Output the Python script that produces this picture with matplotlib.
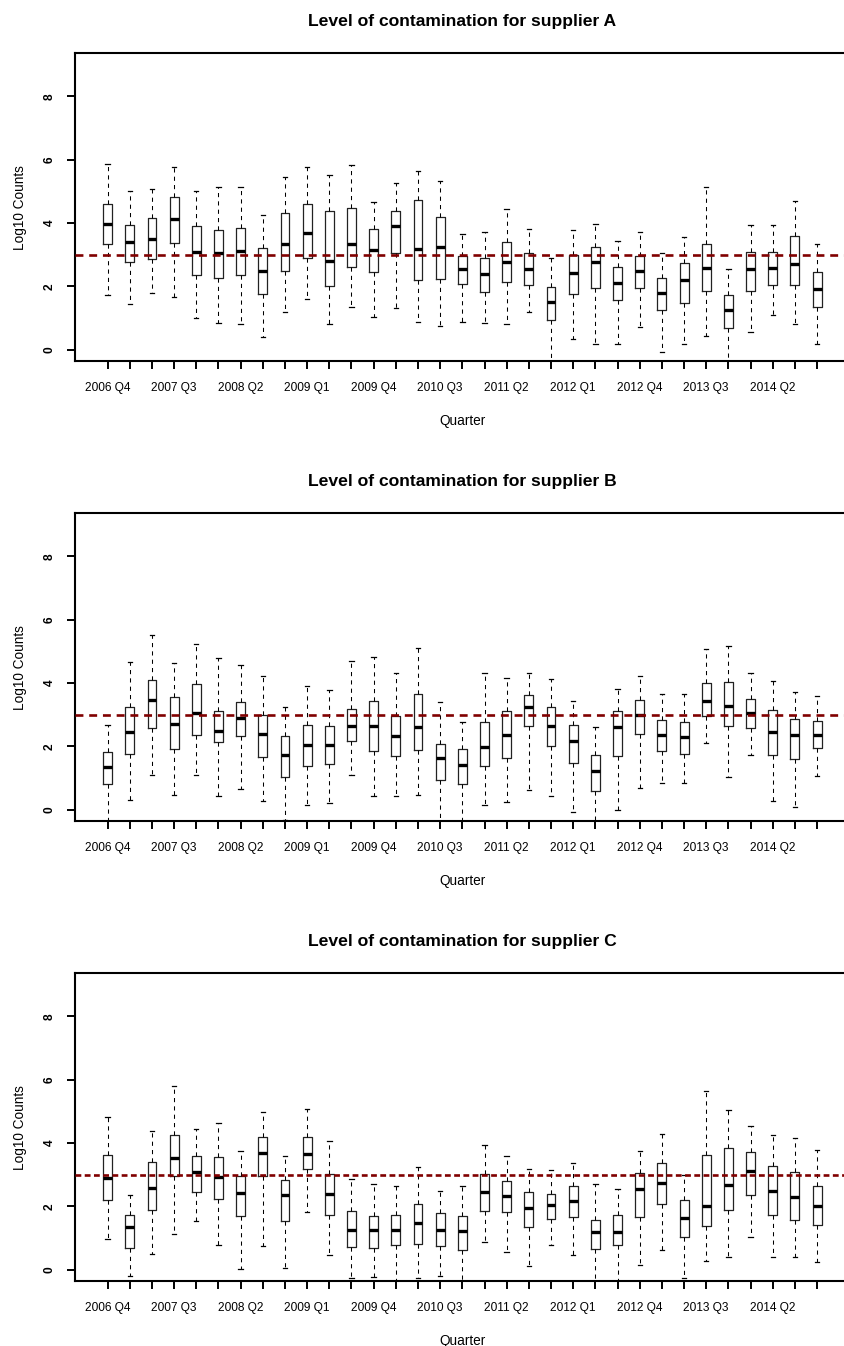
import numpy as np
import matplotlib
matplotlib.use("Agg")
import matplotlib.pyplot as plt

plt.rcParams['font.family'] = ['Liberation Sans', 'DejaVu Sans']

quarters = ["2006 Q4", "2007 Q1", "2007 Q2", "2007 Q3", "2007 Q4", "2008 Q1",
            "2008 Q2", "2008 Q3", "2008 Q4", "2009 Q1", "2009 Q2", "2009 Q3",
            "2009 Q4", "2010 Q1", "2010 Q2", "2010 Q3", "2010 Q4", "2011 Q1",
            "2011 Q2", "2011 Q3", "2011 Q4", "2012 Q1", "2012 Q2", "2012 Q3",
            "2012 Q4", "2013 Q1", "2013 Q2", "2013 Q3", "2013 Q4", "2014 Q1",
            "2014 Q2", "2014 Q3", "2014 Q4"]
threshold = 3.0

# supplier A (log10 counts): whisker low, Q1, median, Q3, whisker high
a_lo = [1.71, 1.44, 1.80, 1.65, 0.99, 0.84, 0.80, 0.41, 1.18, 1.60, 0.80, 1.36, 1.03,
        1.31, 0.87, 0.76, 0.88, 0.85, 0.82, 1.19, -0.40, 0.35, 0.19, 0.19, 0.72, -0.06,
        0.17, 0.44, -0.40, 0.55, 1.09, 0.80, 0.19]
a_q1 = [3.35, 2.78, 2.86, 3.37, 2.37, 2.27, 2.35, 1.77, 2.47, 2.89, 2.02, 2.61, 2.46,
        3.04, 2.19, 2.22, 2.06, 1.82, 2.15, 2.04, 0.95, 1.76, 1.95, 1.57, 1.94, 1.25,
        1.48, 1.86, 0.68, 1.85, 2.05, 2.03, 1.36]
a_med = [3.96, 3.41, 3.48, 4.11, 3.08, 3.05, 3.12, 2.48, 3.34, 3.68, 2.81, 3.33, 3.16,
         3.89, 3.17, 3.25, 2.55, 2.38, 2.78, 2.55, 1.49, 2.42, 2.78, 2.09, 2.49, 1.79,
         2.21, 2.59, 1.26, 2.55, 2.57, 2.69, 1.92]
a_q3 = [4.60, 3.95, 4.15, 4.82, 3.89, 3.79, 3.83, 3.20, 4.33, 4.60, 4.37, 4.47, 3.81,
        4.37, 4.73, 4.20, 2.96, 2.88, 3.39, 3.04, 1.97, 3.00, 3.23, 2.61, 2.96, 2.26,
        2.74, 3.34, 1.74, 3.09, 3.08, 3.58, 2.44]
a_hi = [5.87, 5.02, 5.08, 5.76, 5.02, 5.15, 5.13, 4.25, 5.44, 5.76, 5.53, 5.82, 4.65,
        5.25, 5.63, 5.34, 3.66, 3.72, 4.45, 3.82, 2.88, 3.78, 3.98, 3.42, 3.72, 3.04,
        3.57, 5.13, 2.56, 3.94, 3.94, 4.71, 3.35]

# supplier B
b_lo = [-0.40, 0.31, 1.08, 0.46, 1.08, 0.43, 0.65, 0.28, -0.32, 0.15, 0.22, 1.09, 0.44,
        0.42, 0.46, -0.40, -0.40, 0.15, 0.25, 0.62, 0.42, -0.08, -0.40, -0.02, 0.68, 0.85,
        0.83, 2.11, 1.04, 1.73, 0.26, 0.08, 1.06]
b_q1 = [0.81, 1.75, 2.59, 1.90, 2.35, 2.13, 2.32, 1.67, 1.04, 1.38, 1.45, 2.17, 1.84,
        1.69, 1.89, 0.94, 0.82, 1.37, 1.62, 2.63, 2.00, 1.46, 0.58, 1.69, 2.39, 1.84,
        1.77, 2.95, 2.65, 2.59, 1.74, 1.59, 1.94]
b_med = [1.36, 2.46, 3.46, 2.69, 3.05, 2.48, 2.88, 2.38, 1.74, 2.03, 2.03, 2.65, 2.63,
         2.34, 2.60, 1.62, 1.42, 1.99, 2.37, 3.24, 2.63, 2.17, 1.23, 2.60, 3.00, 2.35,
         2.28, 3.44, 3.28, 3.06, 2.45, 2.35, 2.37]
b_q3 = [1.82, 3.23, 4.09, 3.57, 3.98, 3.11, 3.41, 3.00, 2.33, 2.67, 2.64, 3.17, 3.43,
        2.97, 3.66, 2.06, 1.91, 2.77, 3.12, 3.62, 3.23, 2.67, 1.73, 3.12, 3.45, 2.83,
        2.78, 4.00, 4.03, 3.49, 3.15, 2.87, 2.81]
b_hi = [2.66, 4.65, 5.52, 4.63, 5.22, 4.78, 4.56, 4.22, 3.24, 3.92, 3.78, 4.68, 4.83,
        4.33, 5.12, 3.41, 2.78, 4.31, 4.16, 4.33, 4.14, 3.44, 2.60, 3.82, 4.21, 3.64,
        3.64, 5.06, 5.18, 4.33, 4.06, 3.71, 3.60]

# supplier C
c_lo = [0.98, -0.19, 0.49, 1.12, 1.52, 0.77, 0.02, 0.75, 0.06, 1.83, 0.45, -0.26, -0.24,
        -0.40, -0.27, -0.19, -0.40, 0.86, 0.55, 0.12, 0.77, 0.45, -0.40, -0.40, 0.15, 0.63,
        -0.28, 0.26, 0.40, 1.04, 0.39, 0.41, 0.23]
c_q1 = [2.19, 0.67, 1.87, 2.95, 2.44, 2.24, 1.69, 2.95, 1.53, 3.19, 1.72, 0.72, 0.67,
        0.77, 0.82, 0.73, 0.61, 1.86, 1.81, 1.34, 1.61, 1.66, 0.64, 0.77, 1.67, 2.06,
        1.04, 1.39, 1.87, 2.36, 1.72, 1.58, 1.40]
c_med = [2.88, 1.36, 2.59, 3.52, 3.07, 2.92, 2.43, 3.67, 2.35, 3.66, 2.38, 1.26, 1.24,
         1.24, 1.47, 1.26, 1.22, 2.45, 2.34, 1.95, 2.03, 2.18, 1.18, 1.19, 2.56, 2.72,
         1.63, 2.00, 2.66, 3.12, 2.49, 2.29, 2.01]
c_q3 = [3.63, 1.74, 3.41, 4.24, 3.59, 3.57, 2.96, 4.20, 2.82, 4.18, 3.02, 1.84, 1.69,
        1.74, 2.07, 1.79, 1.69, 3.03, 2.80, 2.44, 2.40, 2.63, 1.58, 1.73, 3.05, 3.37,
        2.19, 3.63, 3.84, 3.71, 3.26, 3.09, 2.63]
c_hi = [4.82, 2.37, 4.39, 5.81, 4.43, 4.62, 3.74, 4.99, 3.60, 5.06, 4.07, 2.85, 2.69,
        2.65, 3.23, 2.49, 2.63, 3.95, 3.58, 3.17, 3.14, 3.38, 2.69, 2.55, 3.74, 4.27,
        2.98, 5.63, 5.04, 4.53, 4.24, 4.17, 3.79]

panels = [("A", a_lo, a_q1, a_med, a_q3, a_hi),
          ("B", b_lo, b_q1, b_med, b_q3, b_hi),
          ("C", c_lo, c_q1, c_med, c_q3, c_hi)]

W, H = 844, 1346
fig = plt.figure(figsize=(W / 100, H / 100), dpi=100)

left_px, right_px = 75, 849.7
tops_px = [53.3, 513.3, 973.3]
height_px = 307.7

for (name, lo, q1, med, q3, hi), top in zip(panels, tops_px):
    ax = fig.add_axes([left_px / W, 1 - (top + height_px) / H,
                       (right_px - left_px) / W, height_px / H])

    stats = [dict(whislo=l, q1=a, med=m, q3=b, whishi=h, fliers=[])
             for l, a, m, b, h in zip(lo, q1, med, q3, hi)]
    pos = np.arange(1, len(stats) + 1)
    ax.bxp(stats, positions=pos, widths=0.4, showfliers=False,
           boxprops=dict(color='#222222', linewidth=0.9),
           medianprops=dict(color='black', linewidth=2.4, solid_capstyle='butt'),
           whiskerprops=dict(color='black', linewidth=0.75, linestyle=(0, (4, 4))),
           capprops=dict(color='black', linewidth=0.9))

    # threshold line at 1000 counts
    if name == "C":
        ls = (0, (2.2, 1.3))
    else:
        ls = (0, (3.0, 2.2))
    ax.axhline(threshold, color='#800000', linewidth=1.9, linestyle=ls, zorder=5)

    ax.set_xlim(-0.47, 34.47)
    ax.set_ylim(-0.36, 9.36)
    ax.set_yticks([0, 2, 4, 6, 8])
    ax.set_yticklabels(["0", "2", "4", "6", "8"], rotation=90, va='center',
                       fontweight='bold', fontsize=8.6)
    ax.set_xticks(pos)
    ax.set_xticklabels([q if i % 3 == 0 else "" for i, q in enumerate(quarters)],
                       fontsize=8.6)
    ax.tick_params(axis='both', length=5.8, width=1.4)
    ax.tick_params(axis='x', pad=9)
    ax.tick_params(axis='y', pad=8)
    for sp in ax.spines.values():
        sp.set_linewidth(1.5)

    ax.set_xlabel("Quarter", fontsize=9.8, labelpad=14.5)
    ax.set_ylabel("Log10 Counts", fontsize=9.8, labelpad=12)
    ax.text((462 - left_px) / (right_px - left_px), 1 + 32 / height_px,
            "Level of contamination for supplier " + name,
            transform=ax.transAxes, ha='center', va='center',
            fontsize=12.6, fontweight='bold')

fig.savefig("out.png", dpi=100)
